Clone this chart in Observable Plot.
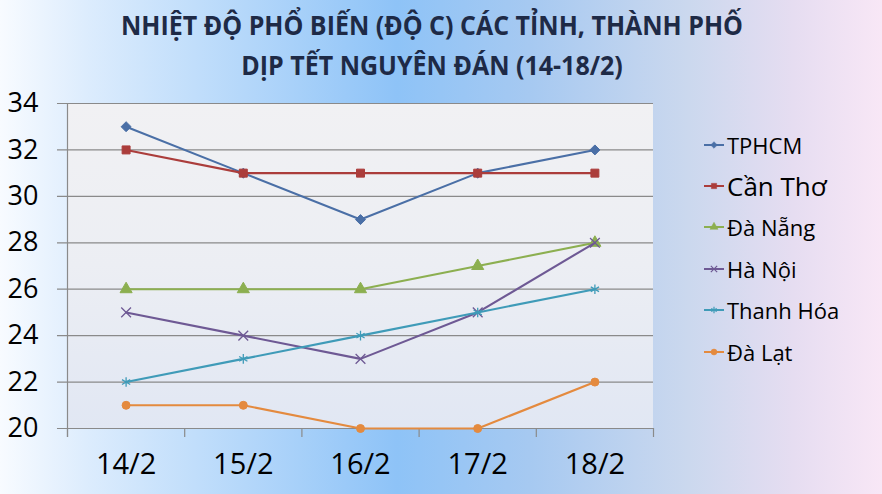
<!DOCTYPE html>
<html>
<head>
<meta charset="utf-8">
<script src="https://cdn.jsdelivr.net/npm/d3@7"></script>
<script src="https://cdn.jsdelivr.net/npm/@observablehq/plot@0.6"></script>
<style>
  html, body { margin: 0; padding: 0; }
  #wrap {
    position: relative; width: 882px; height: 494px; overflow: hidden;
    background: linear-gradient(90deg, #f8fbff 0%, #dcecfd 10%, #b4d7fa 28%, #8ec3f7 45%, #a6c9f1 60%, #cbd8ee 78%, #e6ddf1 90%, #f8e7f6 100%);
    font-family: "Open Sans", sans-serif;
  }
  #plotbg {
    position: absolute; left: 67px; top: 103px; width: 586px; height: 325px;
    background: linear-gradient(180deg, #f1f1f3 0%, #eceef3 50%, #e1e7f3 100%);
  }
  #chart { position: absolute; left: 0; top: 0; }
  #title {
    position: absolute; left: 0; top: 5px; width: 864px; text-align: center;
    color: #1e2a46; font-weight: 700; font-size: 25px; line-height: 37px;
    transform: scaleY(1.08); transform-origin: top center;
  }
  #legend { position: absolute; left: 703px; top: 124px; }
  .row { display: flex; align-items: center; height: 41.4px; color: #000; font-size: 22px; }
  .row svg { margin-right: 2px; }
</style>
</head>
<body>
<div id="wrap">
  <div id="plotbg"></div>
  <div id="chart"></div>
  <div id="title">NHIỆT ĐỘ PHỔ BIẾN (ĐỘ C) CÁC TỈNH, THÀNH PHỐ<br>DỊP TẾT NGUYÊN ĐÁN (14-18/2)</div>
  <div id="legend"></div>
</div>
<script>
const days = ["14/2", "15/2", "16/2", "17/2", "18/2"];
const seriesNames = ["TPHCM", "Cần Thơ", "Đà Nẵng", "Hà Nội", "Thanh Hóa", "Đà Lạt"];
const tphcm    = [33, 31, 29, 31, 32];
const canTho   = [32, 31, 31, 31, 31];
const daNang   = [26, 26, 26, 27, 28];
const haNoi    = [25, 24, 23, 25, 28];
const thanhHoa = [22, 23, 24, 25, 26];
const daLat    = [21, 21, 20, 20, 22];
const yTicks = [20, 22, 24, 26, 28, 30, 32, 34];

const colors  = ["#4a6fa6", "#ab3d3b", "#8caf50", "#6e5994", "#3f9bb8", "#e48a3e"];
const symbols = ["diamond2", "square", "triangle", "times", "asterisk", "circle"];
const rs      = [4.5, 4.5, 4.5, 4.5, 4.5, 4];
const allValues = [tphcm, canTho, daNang, haNoi, thanhHoa, daLat];

const data = [];
seriesNames.forEach((name, s) => {
  allValues[s].forEach((v, i) => data.push({series: name, x: i, day: days[i], y: v}));
});

const boundaries = days.map((_, i) => i - 0.5).concat([days.length - 0.5]);

const marks = [
  Plot.gridY(yTicks, {stroke: "#8a8a8a", strokeOpacity: 1, strokeWidth: 1.2, x1: -0.5 - 10/117, x2: 4.5}),
  Plot.ruleX([-0.5], {y1: 20 - 9/23.2, y2: 34, stroke: "#8a8a8a", strokeWidth: 1.2}),
  Plot.axisY({ticks: yTicks, tickSize: 0, tickPadding: 29, fontSize: 27, fill: "#000", anchor: "left", label: null}),
  Plot.axisX({ticks: days.map((_, i) => i), tickFormat: i => days[i], tickSize: 0, tickPadding: 25, fontSize: 29, fill: "#000", anchor: "bottom", label: null}),
  Plot.axisX({ticks: boundaries, tickFormat: () => "", tickSize: 9, stroke: "#8a8a8a", strokeWidth: 1.2, anchor: "bottom", label: null})
];
seriesNames.forEach((name, s) => {
  const d = data.filter(e => e.series === name);
  marks.push(Plot.line(d, {x: "x", y: "y", stroke: colors[s], strokeWidth: 2.1}));
  marks.push(Plot.dot(d, {x: "x", y: "y", symbol: () => symbols[s], r: rs[s],
    fill: (symbols[s] === "times" || symbols[s] === "asterisk") ? "none" : colors[s],
    stroke: colors[s], strokeWidth: (symbols[s] === "times" || symbols[s] === "asterisk") ? 1.3 : 1}));
});

const chart = Plot.plot({
  width: 882, height: 494,
  marginLeft: 67, marginRight: 229, marginTop: 103, marginBottom: 66,
  style: {background: "transparent", fontFamily: "'Open Sans', sans-serif", overflow: "visible"},
  x: {domain: [-0.5, 4.5], axis: null},
  y: {domain: [20, 34], axis: null},
  marks
});
document.getElementById("chart").appendChild(chart);

// legend
const legend = document.getElementById("legend");
seriesNames.forEach((name, s) => {
  const row = document.createElement("div");
  row.className = "row";
  if (s === 1) row.style.fontSize = "26px";
  const svg = d3.create("svg").attr("width", 22).attr("height", 12);
  svg.append("line").attr("x1", 1).attr("x2", 21).attr("y1", 6).attr("y2", 6)
    .attr("stroke", colors[s]).attr("stroke-width", 2);
  const symMap = {diamond2: d3.symbolDiamond2, square: d3.symbolSquare, triangle: d3.symbolTriangle,
    times: d3.symbolTimes, asterisk: d3.symbolAsterisk, circle: d3.symbolCircle};
  const hollow = symbols[s] === "times" || symbols[s] === "asterisk";
  svg.append("path").attr("d", d3.symbol(symMap[symbols[s]], 28)())
    .attr("transform", "translate(11,6)")
    .attr("fill", hollow ? "none" : colors[s]).attr("stroke", colors[s]).attr("stroke-width", hollow ? 1.2 : 0.5);
  row.appendChild(svg.node());
  const span = document.createElement("span");
  span.textContent = name;
  row.appendChild(span);
  legend.appendChild(row);
});
</script>
</body>
</html>
